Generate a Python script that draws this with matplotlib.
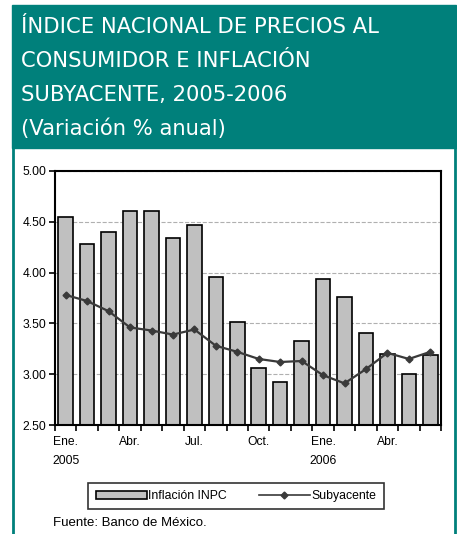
import matplotlib.pyplot as plt
import matplotlib.patches as mpatches
import matplotlib.lines as mlines
import numpy as np

meses = ['Ene.', 'Feb.', 'Mar.', 'Abr.', 'May.', 'Jun.', 'Jul.', 'Ago.', 'Sep.',
         'Oct.', 'Nov.', 'Dic.', 'Ene.', 'Feb.', 'Mar.', 'Abr.', 'May.', 'Jun.']
inpc = [4.55, 4.28, 4.40, 4.61, 4.61, 4.34, 4.47, 3.96, 3.51,
        3.06, 2.92, 3.33, 3.94, 3.76, 3.41, 3.20, 3.00, 3.19]
subyacente = [3.78, 3.72, 3.62, 3.46, 3.43, 3.39, 3.44, 3.28, 3.22,
              3.15, 3.12, 3.13, 2.99, 2.91, 3.05, 3.21, 3.15, 3.22]
etiquetas = {0: 'Ene.\n2005', 3: 'Abr.', 6: 'Jul.', 9: 'Oct.', 12: 'Ene.\n2006', 15: 'Abr.'}

W, H = 457, 534
teal = '#00807b'
plt.rcParams['font.family'] = ['Liberation Sans', 'DejaVu Sans']

fig = plt.figure(figsize=(W / 100, H / 100), dpi=100)

# header box and frame
fig.patches.append(mpatches.Rectangle((12 / W, 1 - 148 / H), 444 / W, 143 / H,
                                      transform=fig.transFigure, color=teal, zorder=0))
fig.lines.append(mlines.Line2D([13 / W, 13 / W], [0, 1 - 148 / H], transform=fig.transFigure,
                               color=teal, lw=2))
fig.lines.append(mlines.Line2D([455 / W, 455 / W], [0, 1 - 148 / H], transform=fig.transFigure,
                               color=teal, lw=2))

titulo = ['ÍNDICE NACIONAL DE PRECIOS AL', 'CONSUMIDOR E INFLACIÓN',
          'SUBYACENTE, 2005-2006', '(Variación % anual)']
for i, t in enumerate(titulo):
    fig.text(21 / W, 1 - (33 + 34 * i) / H, t, color='white', fontsize=15.2,
             family='DejaVu Sans', va='baseline', ha='left')

ax = fig.add_axes([55 / W, (H - 425) / H, (441 - 55) / W, (425 - 171) / H])
x = np.arange(len(inpc))
ax.bar(x, inpc, width=0.68, color='#c0c0c0', edgecolor='black', linewidth=1.2, zorder=2)
ax.plot(x, subyacente, color='#3a3a3a', lw=1.6, marker='D', markersize=3.5, zorder=3)

ax.set_ylim(2.5, 5.0)
ax.set_xlim(-0.5, len(inpc) - 0.5)
ax.set_yticks([2.5, 3.0, 3.5, 4.0, 4.5, 5.0])
ax.set_yticklabels(['%.2f' % v for v in [2.5, 3.0, 3.5, 4.0, 4.5, 5.0]], fontsize=8.7)
ax.yaxis.grid(True, color='#b0b0b0', linestyle='--', lw=0.8, zorder=0)
ax.set_axisbelow(True)

ax.set_xticks(np.arange(-0.5, len(inpc), 1))
ax.set_xticklabels([])
ax.set_xticks(list(etiquetas.keys()), minor=True)
ax.set_xticklabels(list(etiquetas.values()), minor=True, fontsize=8.7, linespacing=1.8,
                   va='top')
ax.tick_params(axis='x', which='major', direction='out', length=4, width=1.2)
ax.tick_params(axis='x', which='minor', length=0, pad=8)
ax.tick_params(axis='y', direction='out', length=4, width=1.2, pad=2)
for s in ax.spines.values():
    s.set_linewidth(1.5)

h1 = mpatches.Rectangle((0, 0), 1, 1, facecolor='#c0c0c0', edgecolor='black', lw=1.2)
h2 = mlines.Line2D([], [], color='#3a3a3a', lw=1.2, marker='D', markersize=3.5)
leg = fig.legend([h1, h2], ['Inflación INPC', 'Subyacente'], ncol=2, fontsize=8.8,
                 loc='center', bbox_to_anchor=(236 / W, 1 - 496 / H), frameon=True,
                 fancybox=False, edgecolor='black', handlelength=4.2, handleheight=0.6,
                 handletextpad=0.1, columnspacing=2.6, borderpad=0.6)
leg.get_frame().set_linewidth(1.2)

fig.text(53 / W, 1 - 526 / H, 'Fuente: Banco de México.', fontsize=9.5, va='baseline')

fig.savefig('out.png', dpi=100)
